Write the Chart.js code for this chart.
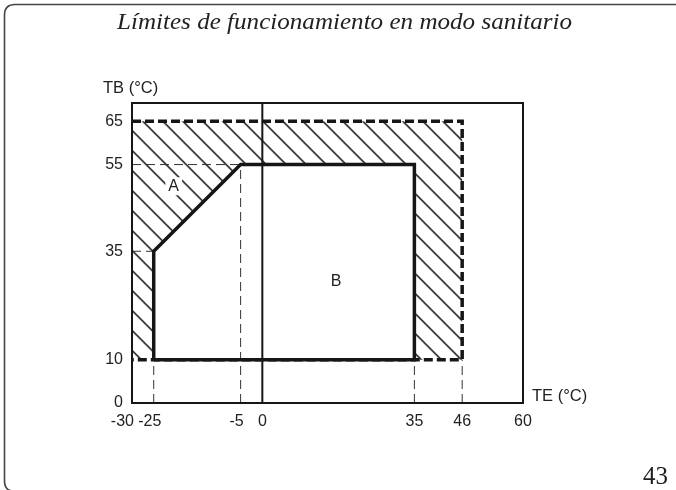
<!DOCTYPE html>
<html>
<head>
<meta charset="utf-8">
<script src="https://cdn.jsdelivr.net/npm/chart.js@4.4.0/dist/chart.umd.min.js"></script>
<style>
  html, body { margin: 0; padding: 0; background: #fff; }
  #wrap { width: 676px; height: 490px; position: relative; }
</style>
</head>
<body>
<div id="wrap"><canvas id="chart"></canvas></div>
<script>
// ----- data -----
const xTicks = [-30, -25, -5, 0, 35, 46, 60];
const yTicks = [0, 10, 35, 55, 65];
const xMin = -30, xMax = 60, yMin = 0, yMax = 69.2;

// outer limit (dashed), hatched between this and the zone
const limitTE = [-30, 46, 46, -30];
const limitTB = [65, 65, 10, 10];
// working zone A + B (thick solid outline)
const zoneTE = [-25, -25, -5, 35, 35, -25];
const zoneTB = [10, 35, 55, 55, 10, 10];
// thin dashed reference lines [TE1, TB1, TE2, TB2]
const guides = [
  [-30, 55, -5, 55],
  [-30, 35, -25, 35],
  [-5, 0, -5, 55],
  [-25, 0, -25, 10],
  [35, 0, 35, 10],
  [46, 0, 46, 10]
];
const zoneLabels = [
  { text: 'A', te: -20.4, tb: 50 },
  { text: 'B', te: 17, tb: 28 }
];

const INK = '#161616';
const TXT = '#222';

function pts(xs, ys) { return xs.map((x, i) => ({ x, y: ys[i] })); }

function makeHatch() {
  const c = document.createElement('canvas');
  c.width = 20; c.height = 20;
  const g = c.getContext('2d');
  g.strokeStyle = '#000'; g.lineWidth = 1.4;
  g.beginPath();
  g.moveTo(-2, -2); g.lineTo(22, 22);
  g.moveTo(18, -2); g.lineTo(22, 2);
  g.moveTo(-2, 18); g.lineTo(2, 22);
  g.stroke();
  const p = g.createPattern(c, 'repeat');
  p.setTransform(new DOMMatrix().translate(1.6, 0));
  return p;
}

// negative labels: minus hangs left of the tick, first one pushed clear of the next
function xLabel(v) {
  if (v === xMin) return v + '\u2003\u2009';
  return v < 0 ? v + '\u2002' : String(v);
}

const base = { pointRadius: 0, pointHoverRadius: 0, tension: 0, fill: false };

const datasets = [];
// hatched outer area
datasets.push({ ...base, data: pts(limitTE.concat(limitTE[0]), limitTB.concat(limitTB[0])),
  fill: 'shape', backgroundColor: makeHatch(), borderColor: 'rgba(0,0,0,0)', borderWidth: 1, order: 10 });
// white inside of the zone
datasets.push({ ...base, data: pts(zoneTE, zoneTB),
  fill: 'shape', backgroundColor: '#fff', borderColor: 'rgba(0,0,0,0)', borderWidth: 1, order: 9 });
// dashed outer limit (left side is the axis)
datasets.push({ ...base, data: pts(limitTE, limitTB), borderColor: INK, borderWidth: 3.5,
  borderDash: [9, 4], order: 8 });
// thin guides
guides.forEach(g => datasets.push({ ...base, data: [{ x: g[0], y: g[1] }, { x: g[2], y: g[3] }],
  borderColor: '#333', borderWidth: 1, borderDash: [9, 5], order: 7 }));
// TE = 0 line
datasets.push({ ...base, data: [{ x: 0, y: yMin }, { x: 0, y: yMax }], borderColor: INK, borderWidth: 2, order: 6 });
// zone outline
datasets.push({ ...base, data: pts(zoneTE, zoneTB), borderColor: INK, borderWidth: 3.5,
  borderJoinStyle: 'miter', order: 1 });

const pagePlugin = {
  id: 'page',
  beforeDraw(chart) {
    const ctx = chart.ctx;
    ctx.save();
    ctx.fillStyle = '#fff';
    ctx.fillRect(0, 0, chart.width, chart.height);
    // page frame
    ctx.strokeStyle = '#444'; ctx.lineWidth = 1.6;
    ctx.beginPath();
    ctx.moveTo(676, 4.5);
    ctx.lineTo(15, 4.5);
    ctx.quadraticCurveTo(4.5, 4.5, 4.5, 15);
    ctx.lineTo(4.5, 481);
    ctx.quadraticCurveTo(4.5, 490, 12, 491);
    ctx.stroke();
    // title
    const t = 'Límites de funcionamiento en modo sanitario';
    ctx.font = 'italic 23.5px "Liberation Serif"';
    ctx.fillStyle = TXT;
    ctx.textAlign = 'center'; ctx.textBaseline = 'alphabetic';
    const w = ctx.measureText(t).width;
    ctx.translate(344.5, 28.5);
    ctx.scale(455 / w, 1);
    ctx.fillText(t, 0, 0);
    ctx.restore();
    // page number
    ctx.save();
    ctx.font = '25px "Liberation Serif"';
    ctx.fillStyle = TXT;
    ctx.textAlign = 'right'; ctx.textBaseline = 'alphabetic';
    ctx.fillText('43', 668, 484);
    ctx.restore();
  },
  afterDraw(chart) {
    const ctx = chart.ctx, a = chart.chartArea;
    const xs = chart.scales.x, ys = chart.scales.y;
    ctx.save();
    ctx.strokeStyle = INK; ctx.lineWidth = 2;
    ctx.strokeRect(a.left, a.top, a.right - a.left, a.bottom - a.top);
    ctx.font = '16.5px "Liberation Sans"';
    ctx.fillStyle = TXT;
    ctx.textAlign = 'left'; ctx.textBaseline = 'middle';
    ctx.fillText('TB (°C)', 103, 88);
    ctx.fillText('TE (°C)', a.right + 9, a.bottom - 7);
    ctx.font = '16px "Liberation Sans"';
    ctx.textAlign = 'center';
    zoneLabels.forEach(l => {
      const px = xs.getPixelForValue(l.te), py = ys.getPixelForValue(l.tb);
      const w = ctx.measureText(l.text).width;
      ctx.fillStyle = '#fff';
      ctx.fillRect(px - w / 2 - 3, py - 9, w + 6, 18);
      ctx.fillStyle = TXT;
      ctx.fillText(l.text, px, py);
    });
    ctx.restore();
  }
};

new Chart(document.getElementById('chart'), {
  type: 'line',
  data: { datasets },
  options: {
    responsive: true,
    maintainAspectRatio: false,
    animation: false,
    events: [],
    layout: { padding: { left: 0, right: 153, top: 103, bottom: 0 } },
    plugins: { legend: { display: false }, tooltip: { enabled: false } },
    scales: {
      x: {
        type: 'linear', min: xMin, max: xMax,
        grid: { display: false, drawTicks: false },
        border: { display: false },
        afterBuildTicks: s => { s.ticks = xTicks.map(v => ({ value: v })); },
        afterFit: s => { s.height = 87; },
        ticks: { autoSkip: false, maxRotation: 0, padding: 9, color: TXT,
          callback: xLabel,
          font: { family: 'Liberation Sans', size: 16 } }
      },
      y: {
        type: 'linear', min: yMin, max: yMax,
        grid: { display: false, drawTicks: false },
        border: { display: false },
        afterBuildTicks: s => { s.ticks = yTicks.map(v => ({ value: v })); },
        afterFit: s => { s.width = 132; },
        ticks: { autoSkip: false, padding: 9, color: TXT,
          font: { family: 'Liberation Sans', size: 16 } }
      }
    }
  },
  plugins: [pagePlugin]
});
</script>
</body>
</html>
